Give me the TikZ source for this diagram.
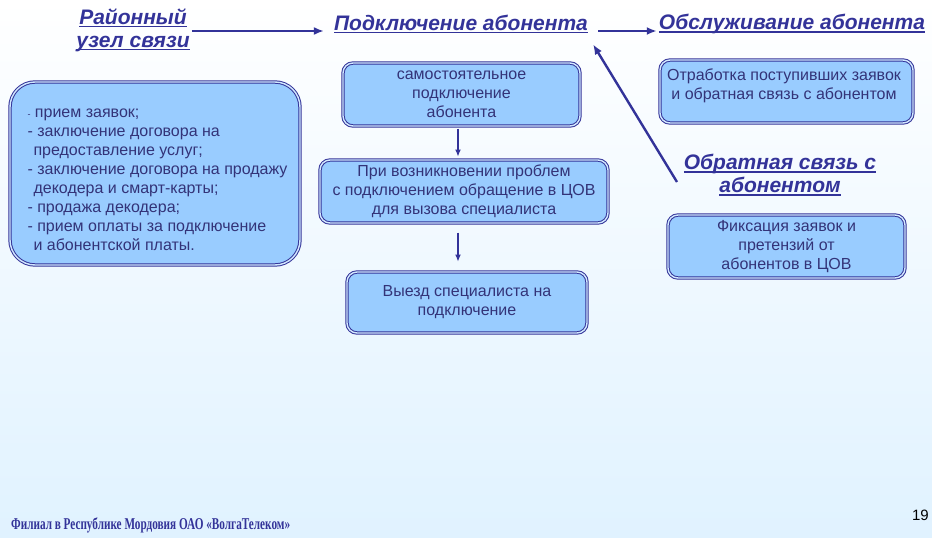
\documentclass[tikz,border=0pt]{standalone}
\usepackage{fontspec}
\setmainfont{Liberation Sans}
\newfontfamily\footfont[FakeStretch=0.68]{Liberation Serif}
\usetikzlibrary{arrows.meta,calc}

\definecolor{zagcol}{RGB}{51,51,153}
\definecolor{txtcol}{RGB}{51,51,120}
\definecolor{blokfill}{RGB}{153,204,255}
\definecolor{fonbot}{RGB}{224,242,255}

\newcommand\podch[1]{\setbox0\hbox{#1}\rlap{\rule[-3pt]{\wd0}{1.6pt}}\box0}

\tikzset{
  blok/.style={draw=zagcol,line width=1pt,double=blokfill!45!white,double distance=1.4pt,
    fill=blokfill,rounded corners=10pt,text=txtcol,align=center,
    font=\fontsize{16}{19}\selectfont},
  zag/.style={text=zagcol,align=center,inner sep=2pt,
    font=\fontsize{21}{23}\selectfont\bfseries\itshape},
  strel/.style={draw=zagcol,line width=2.4pt,-{Latex[length=10pt,width=8pt]}},
  strelka/.style={draw=zagcol,line width=1.1pt,-{Latex[length=7pt,width=6pt]}}
}

\begin{document}
\begin{tikzpicture}[x=1pt,y=-1pt]
  \useasboundingbox (0,0) rectangle (932,538);
  \shade[top color=white,bottom color=fonbot] (0,0) rectangle (932,538);

  % zagolovki
  \node[zag] (rayon) at (133,30) {\podch{Районный}\\\podch{узел связи}};
  \node[zag] (podkl) at (461,24) {\podch{Подключение абонента}};
  \node[zag] (obsl) at (792,24) {\podch{Обслуживание абонента}};
  \node[zag] (obrat) at (780,175) {\podch{Обратная связь с}\\\podch{абонентом}};

  \coordinate (fb) at (677,182);
  \draw[strel,shorten >=8pt] (rayon.east |- 0,31) -- (podkl.west |- 0,31);
  \draw[strel,shorten <=8pt] (podkl.east |- 0,31) -- (obsl.west |- 0,31);
  \draw[strel] (fb) -- ($(podkl.south east)+(3,9)$);

  % levyi blok
  \node[blok,rounded corners=25pt,minimum width=290pt,minimum height=183pt] (rayblok) at (155,173.5) {};
  \node[anchor=west,align=left,text=txtcol,font=\fontsize{16}{19}\selectfont] (raytxt) at (24,180)
    {{\small-} прием заявок;\\
     - заключение договора на\\
     \hspace*{6pt}предоставление услуг;\\
     - заключение договора на продажу\\
     \hspace*{6pt}декодера и смарт-карты;\\
     - продажа декодера;\\
     - прием оплаты за подключение\\
     \hspace*{6pt}и абонентской платы.};

  % srednie bloki
  \node[blok,minimum width=237pt,minimum height=63pt] (sam) at (461.5,94.5)
    {самостоятельное\\подключение\\абонента};
  \node[blok,minimum width=288pt,minimum height=63pt] (probl) at (464,191.5)
    {При возникновении проблем\\с подключением обращение в ЦОВ\\для вызова специалиста};
  \node[blok,minimum width=240pt,minimum height=61pt] (vyezd) at (467,302.5)
    {Выезд специалиста на\\подключение};

  \draw[strelka,shorten <=2pt,shorten >=3pt] (sam.south -| 458,0) -- (probl.north -| 458,0);
  \draw[strelka,shorten <=9pt,shorten >=10pt] (probl.south -| 458,0) -- (vyezd.north -| 458,0);

  % pravye bloki
  \node[blok,minimum width=253pt,minimum height=63pt] (otrab) at (786.5,91.5) {};
  \node[text=txtcol,align=center,font=\fontsize{16}{19}\selectfont] (otrabtxt) at (784,86)
    {Отработка поступивших заявок\\и обратная связь с абонентом};
  \node[blok,minimum width=237pt,minimum height=63pt] (fiks) at (786.5,246.5)
    {Фиксация заявок и\\претензий от\\абонентов в ЦОВ};

  % podval
  \node[anchor=base west,text=zagcol,inner sep=0pt,font=\footfont\fontsize{16.5}{18}\selectfont\bfseries]
    (filial) at (11,529) {Филиал в Республике Мордовия ОАО «ВолгаТелеком»};
  \node[anchor=base east,inner sep=0pt,font=\fontsize{15}{16}\selectfont] (nomer) at (929,520) {19};
\end{tikzpicture}
\end{document}
